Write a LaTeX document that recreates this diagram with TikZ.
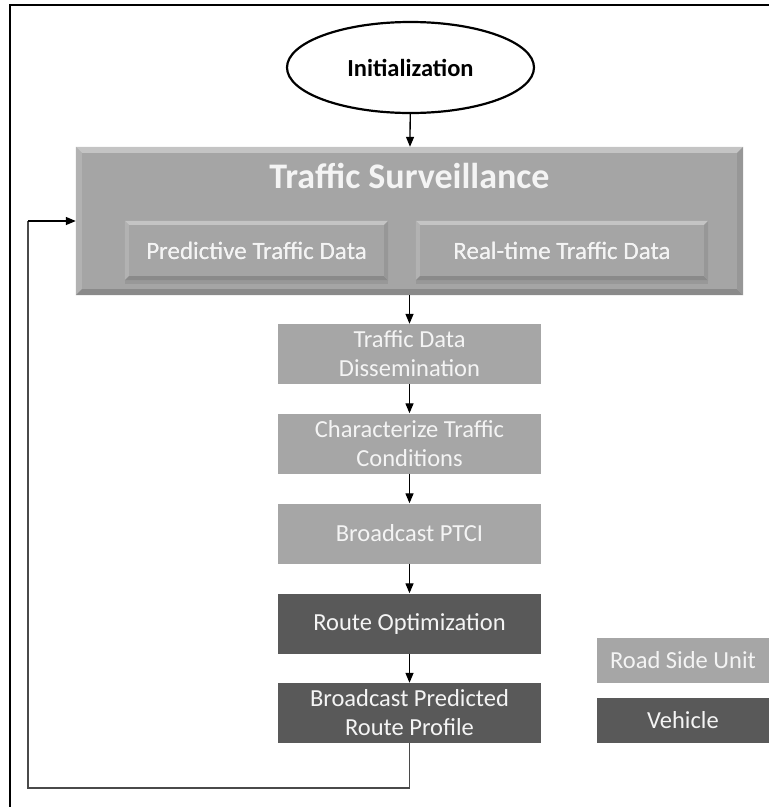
\documentclass[tikz,border=0pt]{standalone}
\usepackage{fontspec}
\setmainfont{Carlito}
\usetikzlibrary{arrows.meta,shapes.geometric,shadows}

\definecolor{rsugray}{HTML}{A6A6A6}
\definecolor{vehgray}{HTML}{595959}
\definecolor{survgray}{HTML}{A5A5A5}
\definecolor{bevlight}{HTML}{C4C4C4}
\definecolor{bevside}{HTML}{B2B2B2}
\definecolor{bevdark}{HTML}{8A8A8A}
\definecolor{txtwhite}{HTML}{F4F4F4}
\definecolor{fbgray}{HTML}{4A4A4A}

\tikzset{
  boxtext/.style={font=\fontsize{24.5}{29}\selectfont, text=txtwhite, align=center, inner sep=0pt},
  rsubox/.style={boxtext, fill=rsugray, minimum width=263pt, minimum height=60pt},
  vehbox/.style={boxtext, fill=vehgray, minimum width=263pt, minimum height=60pt},
  keybox/.style={boxtext, minimum width=172pt, minimum height=45pt},
  databox/.style={boxtext, font=\fontsize{25}{29}\selectfont, fill=survgray, minimum height=59pt,
    drop shadow={shadow xshift=0pt, shadow yshift=-4pt, opacity=0.35}},
  flow/.style={-{Triangle[length=10pt,width=8pt]}, line width=1.3pt, black},
}

% bevel edges of a box node: #1 node, #2 bevel size
\newcommand{\bevelbox}[2]{%
  \fill[bevlight] (#1.north west) -- (#1.north east) -- ([shift={(-#2,#2)}]#1.north east) -- ([shift={(#2,#2)}]#1.north west) -- cycle;
  \fill[bevside] (#1.north west) -- ([shift={(#2,#2)}]#1.north west) -- ([shift={(#2,-#2)}]#1.south west) -- (#1.south west) -- cycle;
  \fill[bevdark] (#1.south west) -- (#1.south east) -- ([shift={(-#2,-#2)}]#1.south east) -- ([shift={(#2,-#2)}]#1.south west) -- cycle;
  \fill[bevside!85!black] (#1.north east) -- ([shift={(-#2,#2)}]#1.north east) -- ([shift={(-#2,-#2)}]#1.south east) -- (#1.south east) -- cycle;
}

\begin{document}
\begin{tikzpicture}[x=1pt, y=-1pt]
  \useasboundingbox (0,0) rectangle (769,807);
  % frame
  \draw[line width=2.2pt] (10,807) -- (10,5) -- (769,5);

  % start
  \node[draw, ellipse, line width=2.2pt, fill=white, minimum width=247pt, minimum height=91pt,
    font=\fontsize{24.5}{28}\selectfont\bfseries] (init) at (410.5,67.5) {Initialization};

  % surveillance block
  \node[fill=survgray, minimum width=667pt, minimum height=148pt, inner sep=0pt] (surv) at (409.5,221) {};
  \bevelbox{surv}{6}
  \node[font=\fontsize{36}{42}\selectfont\bfseries, text=txtwhite] (survtitle) at (409.5,176) {Traffic Surveillance};
  \node[databox, minimum width=263pt] (pred) at (256.5,250.5) {Predictive Traffic Data};
  \node[databox, minimum width=292pt] (real) at (562,250.5) {Real-time Traffic Data};
  \bevelbox{pred}{4}
  \bevelbox{real}{4}
  \node[boxtext, font=\fontsize{25}{29}\selectfont] (predtxt) at (pred) {Predictive Traffic Data};
  \node[boxtext, font=\fontsize{25}{29}\selectfont] (realtxt) at (real) {Real-time Traffic Data};

  % flow
  \node[rsubox] (dissem) at (409.5,354) {Traffic Data\\Dissemination};
  \node[rsubox] (charac) at (409.5,443.5) {Characterize Traffic\\Conditions};
  \node[rsubox] (ptci) at (409.5,533.5) {Broadcast PTCI};
  \node[vehbox] (routeopt) at (409.5,623.5) {Route Optimization};
  \node[vehbox] (profile) at (409.5,713) {Broadcast Predicted\\Route Profile};

  % legend
  \node[keybox, fill=rsugray] (keyrsu) at (683,660.5) {Road Side Unit};
  \node[keybox, fill=vehgray] (keyveh) at (683,720.5) {Vehicle};

  \draw[flow] (init) -- (surv);
  \draw[flow] (surv) -- (dissem);
  \draw[flow] (dissem) -- (charac);
  \draw[flow] (charac) -- (ptci);
  \draw[flow] (ptci) -- (routeopt);
  \draw[flow] (routeopt) -- (profile);

  % feedback loop
  \coordinate (fbcorner) at (28,788);
  \draw[line width=1.6pt, fbgray] (profile.south) |- (fbcorner) -- (fbcorner |- surv.west);
  \draw[flow] (fbcorner |- surv.west) -- (surv.west);
\end{tikzpicture}
\end{document}
